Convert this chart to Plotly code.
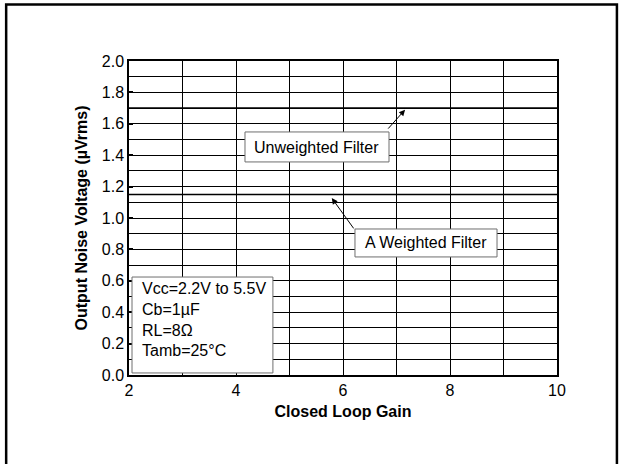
import plotly.graph_objects as go

# Data
gain = [2, 4, 6, 8, 10]
unweighted_noise = [1.7, 1.7, 1.7, 1.7, 1.7]
a_weighted_noise = [1.15, 1.15, 1.15, 1.15, 1.15]

conditions = ["Vcc=2.2V to 5.5V", "Cb=1\u00b5F", "RL=8\u03a9", "Tamb=25\u00b0C"]

FONT = "Liberation Sans, Arial, Helvetica, sans-serif"

fig = go.Figure()

fig.add_trace(go.Scatter(x=gain, y=unweighted_noise, mode="lines",
                         line=dict(color="black", width=1.5), showlegend=False))
fig.add_trace(go.Scatter(x=gain, y=a_weighted_noise, mode="lines",
                         line=dict(color="black", width=1.5), showlegend=False))

shapes = []
# outer frame around the whole figure
shapes.append(dict(type="rect", xref="paper", yref="paper",
                   x0=-0.287, x1=1.140, y0=-0.35, y1=1.180,
                   line=dict(color="black", width=2.5), layer="above"))

# label boxes
box_line = dict(color="#6e6e6e", width=1)
shapes.append(dict(type="rect", xref="x", yref="y", x0=4.168, x1=6.86, y0=1.357, y1=1.548,
                   line=box_line, fillcolor="white", layer="above"))
shapes.append(dict(type="rect", xref="x", yref="y", x0=6.224, x1=8.879, y0=0.752, y1=0.930,
                   line=box_line, fillcolor="white", layer="above"))
shapes.append(dict(type="rect", xref="x", yref="y", x0=2.056, x1=4.69, y0=0.013, y1=0.624,
                   line=box_line, fillcolor="white", layer="above"))

annotations = []
annotations.append(dict(x=5.51, y=1.452, text="Unweighted Filter", showarrow=False,
                        font=dict(size=16, family=FONT, color="black")))
annotations.append(dict(x=7.55, y=0.841, text="A Weighted Filter", showarrow=False,
                        font=dict(size=16, family=FONT, color="black")))
# arrows
annotations.append(dict(x=7.16, y=1.69, ax=6.82, ay=1.56, axref="x", ayref="y",
                        text="", showarrow=True, arrowhead=2, arrowsize=1.2,
                        arrowwidth=1, arrowcolor="black"))
annotations.append(dict(x=5.79, y=1.127, ax=6.22, ay=0.924, axref="x", ayref="y",
                        text="", showarrow=True, arrowhead=2, arrowsize=1.2,
                        arrowwidth=1, arrowcolor="black"))

cond_y = [0.554, 0.42, 0.283, 0.153]
for txt, yy in zip(conditions, cond_y):
    annotations.append(dict(x=2.2, y=yy, xanchor="left", text=txt, showarrow=False,
                            font=dict(size=16, family=FONT, color="black")))

fig.update_layout(
    width=622, height=464,
    margin=dict(l=129, r=65, t=61, b=89),
    paper_bgcolor="white", plot_bgcolor="white",
    font=dict(family=FONT, color="black", size=16),
    shapes=shapes, annotations=annotations,
    showlegend=False,
)

fig.update_xaxes(
    range=[2, 10], dtick=2, tick0=2,
    showgrid=True, gridcolor="black", gridwidth=1,
    minor=dict(dtick=1, showgrid=True, gridcolor="black", gridwidth=1),
    showline=True, linecolor="black", linewidth=1.5, mirror=True,
    ticks="", zeroline=False,
    tickfont=dict(size=16),
    title=dict(text="<b>Closed Loop Gain</b>", font=dict(size=16), standoff=8),
)
fig.update_yaxes(
    range=[0, 2], dtick=0.2, tick0=0, tickformat=".1f",
    showgrid=True, gridcolor="black", gridwidth=1,
    minor=dict(dtick=0.1, showgrid=True, gridcolor="black", gridwidth=1),
    showline=True, linecolor="black", linewidth=1.5, mirror=True,
    ticks="inside", ticklen=4, tickwidth=2, tickcolor="black", zeroline=False,
    tickfont=dict(size=16),
    title=dict(text="<b>Output Noise Voltage (\u00b5Vrms)</b>", font=dict(size=16), standoff=10),
)

# drop the default page margin so the figure sits at the window's corner
fig.write_html("out.html", config={"displayModeBar": False},
               post_script="document.body.style.margin='0';")
